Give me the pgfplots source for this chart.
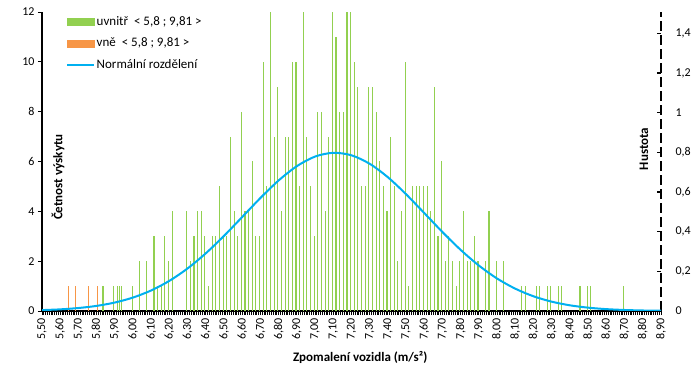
\documentclass[border=0pt]{standalone}
\usepackage{fontspec}
\setmainfont{Carlito}
\usepackage{pgfplots}
\pgfplotsset{compat=1.18}
\definecolor{cgreen}{HTML}{92D050}
\definecolor{corange}{HTML}{F79646}
\definecolor{cblue}{HTML}{00B0F0}
\begin{document}
\begin{tikzpicture}
\path[use as bounding box] (-42bp,-58bp) rectangle (657bp,311bp);
\begin{axis}[
  at={(0,0)}, anchor=south west,
  scale only axis, width=619bp, height=299bp,
  xmin=5.5, xmax=8.9, ymin=0, ymax=12,
  clip=false,
  axis x line*=bottom, axis y line*=left,
  axis line style={line width=1.6bp, black},
  xtick={5.5,5.6,5.7,5.8,5.9,6.0,6.1,6.2,6.3,6.4,6.5,6.6,6.7,6.8,6.9,7.0,7.1,7.2,7.3,7.4,7.5,7.6,7.7,7.8,7.9,8.0,8.1,8.2,8.3,8.4,8.5,8.6,8.7,8.8,8.9},
  minor x tick num=9,
  ytick={0,2,4,6,8,10,12},
  tick align=outside,
  major tick length=4bp, minor tick length=4bp,
  tick style={black, line width=0.9bp},
  /pgf/number format/assume math mode=true,
  tick label style={font=\fontsize{12bp}{14bp}\selectfont, text=black},
  xticklabel style={rotate=90, anchor=east, /pgf/number format/.cd, fixed, fixed zerofill, precision=2, use comma},
  xlabel={Zpomalení vozidla (m/s²)},
  xlabel style={font=\fontsize{13bp}{15bp}\selectfont\bfseries, at={(axis description cs:0.514,0)}, yshift=-46bp, anchor=center},
  legend cell align=left,
  legend style={at={(axis description cs:0.034,0.995)}, anchor=north west, draw=none, fill=none,
    font=\fontsize{13bp}{15bp}\selectfont, row sep=9bp,
    nodes={inner xsep=1.5bp, inner ysep=0bp, text height=9.5bp, text depth=3bp}},
]
\addlegendimage{legend image code/.code={\fill[cgreen] (0bp,-3.5bp) rectangle (27bp,3.5bp);}}
\addlegendentry{uvnitř \ < 5,8 ; 9,81 >}
\addlegendimage{legend image code/.code={\fill[corange] (0bp,-3.5bp) rectangle (27bp,3.5bp);}}
\addlegendentry{vně \ < 5,8 ; 9,81 >}
\addlegendimage{legend image code/.code={\draw[cblue, line width=2bp] (0bp,0bp) -- (27bp,0bp);}}
\addlegendentry{Normální rozdělení}
\addplot[ycomb, cgreen, line width=1.1bp, forget plot] coordinates {
(5.835,1)(5.895,1)(5.915,1)(5.925,1)(5.935,1)(5.995,1)(6.035,2)(6.075,2)(6.115,3)(6.135,1)(6.155,1)(6.175,3)(6.195,2)(6.215,4)(6.295,4)(6.315,2)(6.335,3)(6.355,4)(6.375,4)(6.395,3)(6.415,1)(6.435,3)(6.455,3)(6.475,5)(6.495,3)(6.515,3)(6.535,7)(6.555,4)(6.575,3)(6.595,8)(6.615,4)(6.635,4)(6.655,6)(6.675,3)(6.695,3)(6.715,10)(6.735,5)(6.755,12)(6.775,7)(6.795,9)(6.815,4)(6.835,7)(6.855,7)(6.875,10)(6.895,10)(6.915,5)(6.935,12)(6.955,7)(6.975,5)(6.995,3)(7.015,8)(7.035,8)(7.055,4)(7.075,7)(7.095,12)(7.115,11)(7.135,8)(7.155,8)(7.175,12)(7.195,12)(7.215,10)(7.235,9)(7.255,5)(7.275,5)(7.295,9)(7.315,9)(7.335,8)(7.355,6)(7.375,5)(7.395,4)(7.415,7)(7.435,5)(7.455,2)(7.475,4)(7.495,10)(7.515,1)(7.535,5)(7.555,5)(7.575,5)(7.595,5)(7.615,5)(7.635,4)(7.655,9)(7.675,3)(7.695,6)(7.715,2)(7.735,3)(7.755,2)(7.775,1)(7.795,2)(7.815,4)(7.835,2)(7.855,2)(7.875,3)(7.895,2)(7.935,2)(7.955,4)(7.995,2)(8.035,2)(8.135,1)(8.155,1)(8.215,1)(8.235,1)(8.275,1)(8.295,1)(8.335,1)(8.355,1)(8.455,1)(8.495,1)(8.515,1)(8.695,1)
};
\addplot[ycomb, corange, line width=1.1bp, forget plot] coordinates {
(5.645,1)(5.685,1)(5.755,1)(5.805,1)
};
\node[rotate=90, font=\fontsize{13bp}{15bp}\selectfont\bfseries] at (rel axis cs:0.026,0.448) {Četnost výskytu};
\node[rotate=90, font=\fontsize{13bp}{15bp}\selectfont\bfseries] at (rel axis cs:0.9725,0.542) {Hustota};
\end{axis}
\begin{axis}[
  at={(0,0)}, anchor=south west,
  scale only axis, width=619bp, height=299bp,
  xmin=5.5, xmax=8.9, ymin=0, ymax=1.508,
  axis x line=none, axis y line*=right,
  y axis line style={line width=2bp, black, dash pattern=on 10bp off 4bp},
  ytick={0,0.2,0.4,0.6,0.8,1,1.2,1.4},
  tick align=inside, major tick length=4bp,
  tick style={black, line width=1.2bp},
  /pgf/number format/assume math mode=true,
  yticklabel style={font=\fontsize{12bp}{14bp}\selectfont, text=black, anchor=west, xshift=11bp, /pgf/number format/use comma},
]
\addplot[cblue, line width=2bp, smooth] coordinates {
(5.5,0.0045)(5.6,0.0083)(5.7,0.0150)(5.8,0.0258)(5.9,0.0427)(6.0,0.0679)(6.1,0.1038)(6.2,0.1523)(6.3,0.2149)(6.4,0.2912)(6.5,0.3792)(6.6,0.4744)(6.7,0.5703)(6.8,0.6586)(6.9,0.7306)(7.0,0.7789)(7.1,0.7978)(7.2,0.7852)(7.3,0.7424)(7.4,0.6745)(7.5,0.5887)(7.6,0.4937)(7.7,0.3978)(7.8,0.3079)(7.9,0.2290)(8.0,0.1636)(8.1,0.1124)(8.2,0.0741)(8.3,0.0470)(8.4,0.0286)(8.5,0.0168)(8.6,0.0094)(8.7,0.0051)(8.8,0.0026)(8.9,0.0013)
};
\end{axis}
\end{tikzpicture}
\end{document}
